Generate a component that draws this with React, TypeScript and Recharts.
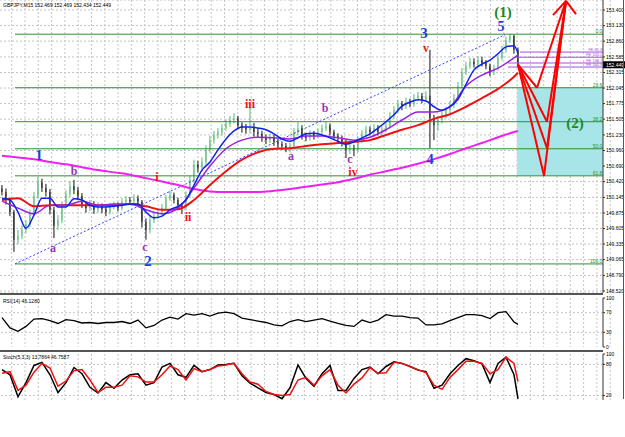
import React from 'react';
import {
  ComposedChart, Bar, Line, Scatter, XAxis, YAxis, CartesianGrid,
  ReferenceLine, ReferenceArea,
} from 'recharts';

// GBPJPY M15 candles (one every 15 min), prices
const firstOpen = 150.3;
const closes = [
  150.24, 150.1, 149.89, 149.41, 149.48, 149.58, 149.68, 149.86, 150.17, 150.41,
  150.31, 150.24, 149.93, 149.65, 149.75, 150.01, 150.2, 150.34, 150.27, 150.17,
  150.03, 149.96, 150.03, 149.93, 149.99, 149.94, 149.89, 149.99, 150.01, 149.96,
  150.07, 150.1, 150.08, 150.13, 150.07, 149.72, 149.58, 149.75, 149.82, 149.89,
  149.96, 150.13, 150.19, 150.1, 150.01, 149.96, 150.19, 150.45, 150.71, 150.66,
  150.76, 150.97, 151.14, 151.23, 151.28, 151.35, 151.42, 151.49, 151.52, 151.4,
  151.35, 151.32, 151.35, 151.28, 151.25, 151.18, 151.14, 151.18, 151.11, 151.07,
  151.04, 151.0, 151.04, 151.28, 151.35, 151.21, 151.18, 151.25, 151.21, 151.28,
  151.35, 151.39, 151.28, 151.21, 151.18, 151.11, 150.97, 151.0, 150.97, 151.14,
  151.25, 151.32, 151.28, 151.35, 151.28, 151.32, 151.39, 151.56, 151.66, 151.77,
  151.73, 151.8, 151.77, 151.87, 151.91, 151.84, 151.91, 151.52, 151.4, 151.49,
  151.58, 151.66, 151.75, 151.87, 152.08, 152.32, 152.43, 152.5, 152.46, 152.53,
  152.48, 152.43, 152.32, 152.39, 152.57, 152.71, 152.88, 152.95, 152.71, 152.45,
];
const highs = [
  150.36, 150.3, 150.14, 149.93, 149.58, 149.66, 149.75, 149.93, 150.24, 150.5,
  150.47, 150.38, 150.29, 149.98, 149.84, 150.08, 150.27, 150.43, 150.45, 150.33,
  150.22, 150.08, 150.1, 150.08, 150.06, 150.04, 149.99, 150.05, 150.07, 150.06,
  150.13, 150.17, 150.15, 150.2, 150.18, 150.1, 149.78, 149.82, 149.88, 149.95,
  150.03, 150.19, 150.26, 150.23, 150.14, 150.05, 150.25, 150.52, 150.8, 150.78,
  150.84, 151.05, 151.21, 151.3, 151.35, 151.42, 151.5, 151.56, 151.61, 151.56,
  151.45, 151.42, 151.7, 151.44, 151.35, 151.3, 151.24, 151.25, 151.23, 151.16,
  151.12, 151.09, 151.1, 151.35, 151.45, 151.4, 151.27, 151.31, 151.3, 151.34,
  151.41, 151.46, 151.43, 151.32, 151.26, 151.22, 151.15, 151.07, 151.06, 151.2,
  151.31, 151.39, 151.38, 151.42, 151.4, 151.38, 151.45, 151.63, 151.73, 151.84,
  151.82, 151.88, 151.86, 151.94, 151.98, 151.96, 151.99, 152.71, 151.58, 151.56,
  151.64, 151.72, 151.82, 151.94, 152.15, 152.39, 152.5, 152.57, 152.56, 152.6,
  152.59, 152.53, 152.47, 152.45, 152.63, 152.78, 152.94, 152.99, 152.97, 152.75,
];
const lows = [
  150.18, 150.02, 149.82, 149.2, 149.33, 149.42, 149.52, 149.63, 149.82, 150.12,
  150.24, 150.16, 149.85, 149.44, 149.58, 149.7, 149.96, 150.15, 150.2, 150.1,
  149.96, 149.88, 149.91, 149.86, 149.88, 149.87, 149.82, 149.85, 149.94, 149.9,
  149.92, 150.02, 150.03, 150.04, 149.99, 149.62, 149.41, 149.52, 149.7, 149.77,
  149.84, 149.92, 150.09, 150.04, 149.94, 149.86, 149.92, 150.14, 150.4, 150.58,
  150.6, 150.71, 150.92, 151.08, 151.17, 151.22, 151.3, 151.37, 151.43, 151.33,
  151.27, 151.25, 151.26, 151.2, 151.18, 151.11, 151.07, 151.09, 151.04, 151.0,
  150.97, 150.93, 150.93, 150.99, 151.22, 151.15, 151.12, 151.13, 151.15, 151.17,
  151.23, 151.3, 151.22, 151.14, 151.1, 151.03, 150.83, 150.9, 150.86, 150.93,
  151.09, 151.2, 151.22, 151.23, 151.22, 151.23, 151.27, 151.34, 151.51, 151.61,
  151.66, 151.68, 151.71, 151.72, 151.82, 151.78, 151.8, 151.0, 151.14, 151.3,
  151.43, 151.52, 151.61, 151.7, 151.83, 152.03, 152.27, 152.38, 152.4, 152.41,
  152.42, 152.37, 152.25, 152.27, 152.35, 152.52, 152.66, 152.83, 152.64, 152.43,
];

// moving averages, sampled every 2nd candle (blue) or every 4th (others), plus the last one
const maBlue = [
  150.13, 150.1, 149.89, 149.61, 149.84, 150.13, 150.13, 149.98, 149.98, 150.12,
  150.1, 150.01, 149.98, 149.98, 149.99, 150.01, 150.03, 150.03, 149.89, 149.79,
  149.82, 149.93, 149.99, 150.1, 150.36, 150.62, 150.76, 150.97, 151.16, 151.3,
  151.37, 151.37, 151.35, 151.32, 151.25, 151.16, 151.12, 151.18, 151.25, 151.26,
  151.23, 151.18, 151.12, 151.07, 151.11, 151.18, 151.25, 151.35, 151.46, 151.58,
  151.73, 151.8, 151.84, 151.82, 151.72, 151.66, 151.72, 151.85, 152.11, 152.36,
  152.46, 152.53, 152.64, 152.76, 152.78, 152.65,
];
const maPurple = [
  150.08, 149.96, 149.86, 150.01, 150.01, 150.08, 150.01, 150.03, 150.03, 149.93,
  149.86, 149.96, 150.31, 150.69, 150.99, 151.14, 151.19, 151.18, 151.16, 151.21,
  151.21, 151.18, 151.14, 151.19, 151.32, 151.49, 151.63, 151.63, 151.72, 152.08,
  152.27, 152.39, 152.57, 152.62,
];
const maRed = [
  150.1, 150.13, 149.99, 150.01, 150.01, 150.01, 150.01, 150.01, 150.03, 149.99,
  149.93, 149.94, 150.1, 150.36, 150.6, 150.8, 150.93, 150.99, 151.0, 151.04,
  151.07, 151.09, 151.11, 151.14, 151.23, 151.32, 151.4, 151.51, 151.59, 151.72,
  151.87, 152.03, 152.24, 152.31,
];
const maMagenta = [
  150.87, 150.84, 150.81, 150.76, 150.72, 150.67, 150.62, 150.58, 150.54, 150.48,
  150.42, 150.36, 150.29, 150.25, 150.24, 150.24, 150.24, 150.26, 150.29, 150.33,
  150.37, 150.41, 150.47, 150.54, 150.6, 150.66, 150.73, 150.81, 150.9, 151.0,
  151.09, 151.19, 151.28, 151.3,
];

// oscillators, every 2nd candle plus the last one
const rsi = [
  60, 39, 32, 42, 57, 58, 54, 48, 56, 54, 49, 50, 48, 50, 50, 52, 48, 55, 39, 44,
  55, 61, 57, 68, 65, 68, 63, 69, 71, 68, 59, 56, 53, 50, 45, 43, 52, 56, 52, 55,
  58, 53, 48, 44, 42, 55, 50, 55, 66, 63, 63, 60, 59, 45, 45, 47, 54, 60, 66, 66,
  64, 58, 70, 72, 51, 46.13,
];
const stochK = [
  70, 60, 18, 45, 78, 84, 60, 26, 45, 74, 62, 36, 25, 45, 34, 50, 60, 62, 40, 45,
  75, 82, 60, 55, 78, 66, 70, 79, 80, 82, 58, 44, 35, 26, 22, 14, 35, 79, 53, 38,
  62, 78, 30, 30, 53, 70, 75, 62, 76, 85, 82, 76, 69, 66, 34, 40, 62, 78, 91, 87,
  81, 45, 82, 94, 60, 13.79,
];
const stochD = [
  63, 66, 30, 40, 65, 82, 73, 38, 48, 68, 70, 50, 26, 36, 36, 40, 58, 56, 46, 46,
  60, 77, 70, 50, 72, 66, 70, 77, 79, 82, 62, 46, 42, 28, 22, 20, 22, 50, 55, 40,
  58, 70, 40, 25, 42, 54, 74, 63, 64, 84, 82, 76, 70, 64, 40, 32, 55, 70, 86, 86,
  82, 62, 70, 94, 82, 46.76,
];

const priceTicks = [
  153.4, 153.13, 152.86, 152.585, 152.315, 152.045, 151.775, 151.505, 151.23, 150.96,
  150.69, 150.42, 150.145, 149.875, 149.605, 149.335, 149.065, 148.79, 148.52,
];

// fibonacci retracement of wave (1)
const fibText = ['0.0', '23.6', '38.2', '50.0', '61.8', '100.0'];
const fibPrice = [152.98, 152.05, 151.46, 150.99, 150.52, 148.99];
const fibStart = 3.25;

// fibonacci expansion levels
const feText = ['FE 61.8', 'FE 100.0', 'FE 138.2', 'FE 161.8'];
const fePrice = [152.67, 152.58, 152.48, 152.41];
const feStart = [129.5, 128.5, 126.5, 126.5];

// wave labels
const waveText = ['(1)', '5', '3', 'v', '4', '1', '2', 'i', 'ii', 'iii', 'iv', 'a', 'b', 'c', 'a', 'b', 'c', '(2)'];
const waveIdx = [125.25, 124.75, 105.5, 106, 107, 9.25, 36.5, 38.75, 46.5, 62, 87.75, 12.75, 18, 35.75, 72.25, 80.75, 87, 143.25];
const wavePrice = [153.37, 153.12, 153.0, 152.74, 150.81, 150.88, 149.04, 150.5, 149.8, 151.77, 150.59, 149.27, 150.6, 149.28, 150.87, 151.7, 150.81, 151.44];
const waveKind = ['G', 'B', 'B', 'R', 'B', 'B', 'B', 'R', 'R', 'R', 'R', 'P', 'P', 'P', 'P', 'P', 'P', 'G'];

// projected wave (2) paths: start, four targets, then the arrow tip
const projIdx = [129, 133.75, 136.25, 136.25, 135.5, 141];
const projPrice = [152.45, 152.05, 151.46, 151.0, 150.52, 153.56];
const wingIdx = [137.75, 143.5];
const wingPrice = [153.31, 153.33];

// channel line 2 -> 5
const chanIdx = [3.25, 125.75];
const chanPrice = [148.99, 152.97];

const lastPrice = 152.449;

const BULL = '#55bb77';
const BEAR = '#111111';
const FIB = '#2f8f2f';
const FE = '#a24fe0';
const GRID = '#c4c4c4';
const SMALL = 'Liberation Sans, Arial, sans-serif';
const SERIF = 'Liberation Serif, Times New Roman, serif';

const X_DOMAIN: [number, number] = [-0.5, 150.25];

const idx2 = Array.from({ length: 65 }, (_, k) => k * 2).concat(129);
const idx4 = Array.from({ length: 33 }, (_, k) => k * 4).concat(129);

const rows = closes.map((c, i) => {
  const k2 = idx2.indexOf(i);
  const k4 = idx4.indexOf(i);
  return {
    i,
    o: i === 0 ? firstOpen : closes[i - 1],
    c,
    range: [lows[i], highs[i]],
    blue: k2 >= 0 ? maBlue[k2] : null,
    purple: k4 >= 0 ? maPurple[k4] : null,
    red: k4 >= 0 ? maRed[k4] : null,
    magenta: k4 >= 0 ? maMagenta[k4] : null,
  };
});

const oscRows = idx2.map((i, k) => ({ i, rsi: rsi[k], k: stochK[k], d: stochD[k] }));

const notes = [
  ...waveText.map((t, n) => ({ i: waveIdx[n], p: wavePrice[n], t, kind: n === 1 ? 'B5' : waveKind[n] })),
  ...fibText.map((t, n) => ({ i: 150.1, p: fibPrice[n], t, kind: 'F' })),
  ...feText.map((t, n) => ({ i: 150.1, p: fePrice[n], t, kind: 'E' })),
];

const noteStyle: Record<string, any> = {
  G: { fill: '#1e8a1e', fontSize: 15, fontFamily: SERIF, fontWeight: 700 },
  B: { fill: '#1f3fe0', fontSize: 15, fontFamily: SERIF, fontWeight: 700 },
  B5: { fill: '#1f3fe0', fontSize: 14, fontFamily: SERIF, fontWeight: 700 },
  R: { fill: '#ee1111', fontSize: 12, fontFamily: SERIF, fontWeight: 700 },
  P: { fill: '#9933bb', fontSize: 12, fontFamily: SERIF, fontWeight: 700 },
  F: { fill: FIB, fontSize: 5, fontFamily: SMALL },
  E: { fill: FE, fontSize: 4, fontFamily: SMALL },
};

const Note = (props: any) => {
  const { cx, cy, payload } = props;
  const small = payload.kind === 'F' || payload.kind === 'E';
  return (
    <text
      x={cx}
      y={small ? cy - 1 : cy}
      textAnchor={small ? 'end' : 'middle'}
      dominantBaseline={small ? 'auto' : 'central'}
      {...noteStyle[payload.kind]}
    >
      {payload.t}
    </text>
  );
};

const Candle = (props: any) => {
  const { x, y, width, height, payload } = props;
  if (!payload) return null;
  const [lo, hi] = payload.range;
  const top = Math.min(y, y + height);
  const h = Math.abs(height);
  const py = (v: number) => top + ((hi - v) / (hi - lo)) * h;
  const up = payload.c >= payload.o;
  const bTop = py(Math.max(payload.o, payload.c));
  const bBot = py(Math.min(payload.o, payload.c));
  const cx = x + width / 2;
  const col = up ? BULL : BEAR;
  return (
    <g>
      <line x1={cx} x2={cx} y1={top} y2={top + h} stroke={col} strokeWidth={1} />
      <rect x={x} y={bTop} width={width} height={Math.max(1, bBot - bTop)} fill={col} />
    </g>
  );
};

const vGrid = (props: any) => {
  const left = props?.offset?.left ?? 0;
  const out: number[] = [];
  for (let k = 0; k < 46; k++) out.push(left + 11.7 + k * 13.3);
  return out;
};

const PriceTag = (props: any) => {
  const vb = props.viewBox || {};
  const x = (vb.x ?? 0) + (vb.width ?? 0);
  const y = vb.y ?? 0;
  return (
    <g>
      <rect x={x} y={y - 3.5} width={22} height={7} fill="#000" />
      <text x={x + 3} y={y + 0.5} fill="#fff" fontSize={5} fontFamily={SMALL} dominantBaseline="central">
        {lastPrice.toFixed(3)}
      </text>
    </g>
  );
};

const axisTick = { fontSize: 5, fill: '#000', fontFamily: SMALL };

export default function App() {
  const projSegs: any[] = [];
  for (let n = 1; n <= 4; n++) {
    projSegs.push([{ x: projIdx[0], y: projPrice[0] }, { x: projIdx[n], y: projPrice[n] }]);
    projSegs.push([{ x: projIdx[n], y: projPrice[n] }, { x: projIdx[5], y: projPrice[5] }]);
  }
  wingIdx.forEach((wi, n) => {
    projSegs.push([{ x: projIdx[5], y: projPrice[5] }, { x: wi, y: wingPrice[n] }]);
  });

  return (
    <div style={{ position: 'relative', width: 625, height: 437, background: '#fff', overflow: 'hidden' }}>
      <style>{'body{margin:0}'}</style>

      {/* main price panel */}
      <div style={{ position: 'absolute', left: 0, top: 0 }}>
        <ComposedChart width={625} height={294} data={rows} margin={{ top: 0, right: 0, bottom: 1, left: 0 }}>
          <ReferenceArea
            x1={128.75} x2={150.25} y1={fibPrice[4]} y2={fibPrice[1]}
            fill="#a8e5e9" fillOpacity={1} stroke="none" ifOverflow="hidden"
          />
          <CartesianGrid stroke={GRID} strokeDasharray="2 2" verticalCoordinatesGenerator={vGrid} />
          <XAxis dataKey="i" type="number" domain={X_DOMAIN} hide allowDataOverflow />
          <YAxis
            orientation="right" width={22} domain={[148.485, 153.574]} allowDataOverflow
            ticks={priceTicks} interval={0} tickFormatter={(v: number) => v.toFixed(3)}
            tick={axisTick} tickSize={2} tickMargin={1}
            axisLine={{ stroke: '#333' }} tickLine={{ stroke: '#333' }}
          />
          {fibPrice.map((p, n) => (
            <ReferenceLine key={'f' + n} segment={[{ x: fibStart, y: p }, { x: 150.25, y: p }]} stroke={FIB} strokeWidth={1} />
          ))}
          {fePrice.map((p, n) => (
            <ReferenceLine key={'e' + n} segment={[{ x: feStart[n], y: p }, { x: 150.25, y: p }]} stroke={FE} strokeWidth={1} />
          ))}
          <ReferenceLine
            segment={[{ x: chanIdx[0], y: chanPrice[0] }, { x: chanIdx[1], y: chanPrice[1] }]}
            stroke="#3344ff" strokeDasharray="2 2" strokeWidth={1}
          />
          <Line dataKey="magenta" stroke="#ee22ee" strokeWidth={2} dot={false} connectNulls type="monotone" isAnimationActive={false} />
          <Bar dataKey="range" barSize={3} shape={<Candle />} isAnimationActive={false} />
          <Line dataKey="red" stroke="#ee1111" strokeWidth={2} dot={false} connectNulls type="monotone" isAnimationActive={false} />
          <Line dataKey="purple" stroke="#9922dd" strokeWidth={1.5} dot={false} connectNulls type="monotone" isAnimationActive={false} />
          <Line dataKey="blue" stroke="#1122ee" strokeWidth={1.5} dot={false} connectNulls type="monotone" isAnimationActive={false} />
          {projSegs.map((s, n) => (
            <ReferenceLine key={'p' + n} segment={s} stroke="#ff0000" strokeWidth={2} ifOverflow="visible" />
          ))}
          <ReferenceLine y={lastPrice} stroke="none" label={<PriceTag />} />
          <Scatter data={notes} dataKey="p" shape={<Note />} isAnimationActive={false} />
        </ComposedChart>
      </div>

      {/* RSI panel */}
      <div style={{ position: 'absolute', left: 0, top: 295 }}>
        <ComposedChart width={625} height={55} data={oscRows} margin={{ top: 3, right: 0, bottom: 3, left: 0 }}>
          <CartesianGrid stroke={GRID} strokeDasharray="2 2" horizontal={false} verticalCoordinatesGenerator={vGrid} />
          <XAxis dataKey="i" type="number" domain={X_DOMAIN} hide allowDataOverflow />
          <YAxis
            orientation="right" width={22} domain={[0, 100]} ticks={[0, 30, 70, 100]} interval={0}
            tick={axisTick} tickSize={2} tickMargin={1}
            axisLine={{ stroke: '#333' }} tickLine={{ stroke: '#333' }}
          />
          <ReferenceLine y={70} stroke={GRID} strokeDasharray="2 2" />
          <ReferenceLine y={30} stroke={GRID} strokeDasharray="2 2" />
          <Line dataKey="rsi" stroke="#000" strokeWidth={1.3} dot={false} isAnimationActive={false} />
        </ComposedChart>
      </div>

      {/* Stochastic panel */}
      <div style={{ position: 'absolute', left: 0, top: 352, height: 48, overflow: 'hidden' }}>
        <ComposedChart width={625} height={54} data={oscRows} margin={{ top: 2, right: 0, bottom: 0, left: 0 }}>
          <CartesianGrid stroke={GRID} strokeDasharray="2 2" horizontal={false} verticalCoordinatesGenerator={vGrid} />
          <XAxis dataKey="i" type="number" domain={X_DOMAIN} hide allowDataOverflow />
          <YAxis
            orientation="right" width={22} domain={[0, 100]} ticks={[20, 80, 100]} interval={0}
            tick={axisTick} tickSize={2} tickMargin={1}
            axisLine={{ stroke: '#333' }} tickLine={{ stroke: '#333' }}
          />
          <ReferenceLine y={80} stroke={GRID} strokeDasharray="2 2" />
          <ReferenceLine y={20} stroke={GRID} strokeDasharray="2 2" />
          <Line dataKey="k" stroke="#000" strokeWidth={1.5} dot={false} isAnimationActive={false} />
          <Line dataKey="d" stroke="#ee1111" strokeWidth={1.5} dot={false} isAnimationActive={false} />
        </ComposedChart>
      </div>

      {/* panel separators, window edge and captions */}
      <div style={{ position: 'absolute', left: 0, top: 293, width: 603, height: 2, background: '#555' }} />
      <div style={{ position: 'absolute', left: 0, top: 350, width: 603, height: 2, background: '#555' }} />
      <div style={{ position: 'absolute', left: 623, top: 0, width: 1, height: 399, background: '#2a56c6' }} />
      <svg style={{ position: 'absolute', left: 0, top: 0 }} width={625} height={437}>
        <text x={3} y={7} fontSize={5} fontFamily={SMALL} fill="#000">GBPJPY,M15  152.469 152.469 152.434 152.449</text>
        <text x={3} y={303} fontSize={5} fontFamily={SMALL} fill="#000">RSI(14) 46.1280</text>
        <text x={3} y={359} fontSize={5} fontFamily={SMALL} fill="#000">Stoch(5,3,3) 13.7864 46.7587</text>
      </svg>
    </div>
  );
}
